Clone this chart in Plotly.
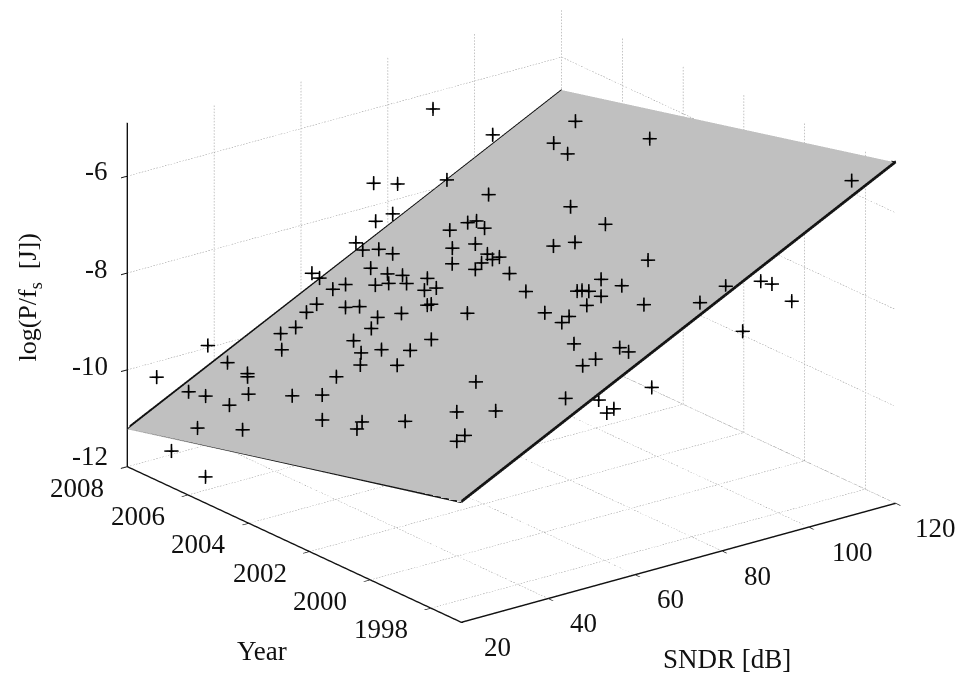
import plotly.graph_objects as go

sndr = [88.86,78.8,81.32,82.23,81.0,69.8,70.85,70.4,74.78,76.85,75.15,75.05,74.23,72.76,71.05,71.1,71.85,68.5,66.05,65.51,66.03,66.58,62.36,63.48,64.38,61.1,59.29,64.72,63.66,55.01,52.66,55.77,56.7,60.33,60.76,55.05,57.18,60.48,48.64,46.5,52.2,48.53,52.66,42.84,46.15,47.84,49.06,43.32,44.94,37.13,35.58,34.89,39.34,28.46,28.39,31.0,27.5,32.74,34.47,45.18,37.28,39.46,28.68,30.22,28.35,32.6,20.58,22.36,32.35,30.57,45.97,110.11,103.92,102.3,109.88,110.3,90.18,87.99,80.3,82.32,81.8,75.05,74.71,71.12,71.07,71.56,71.67,68.33,71.41,64.61,64.88,63.14,58.88,56.51,54.24,60.25,59.78,75.79,81.93,86.96,89.53,74.7,75.67,88.0,77.41,73.83,69.98,59.71,60.07,34.49,22.51,67.14,53.88,55.9,54.63,94.89,94.74,99.65,90.25,22.9,24.17]
year = [2005.96,2005.8,2005.57,2005.41,2004.97,2007.38,2007.0,2006.48,2005.14,2004.68,2004.04,2003.63,2003.74,2003.89,2003.85,2004.62,2002.84,2001.82,2006.58,2005.95,2005.53,2004.79,2005.9,2005.62,2005.16,2006.7,2006.86,2004.23,2004.47,2006.78,2006.78,2005.94,2005.61,2003.9,2003.83,2004.78,2004.3,2002.6,2006.56,2006.75,2004.58,2004.64,2002.67,2006.19,2004.05,2003.62,2002.85,2003.67,2002.69,2007.16,2006.28,2006.18,2003.89,2007.2,2006.63,2005.59,2005.72,2004.4,2003.66,2000.13,1999.63,1998.66,2002.83,2001.74,2001.64,2000.66,2005.78,2004.55,1998.66,1998.67,1997.29,2006.14,2005.97,2005.28,2003.66,1997.07,2003.45,2001.99,2002.6,2002.18,1999.7,2000.28,1999.55,1999.72,2000.5,2000.41,2000.2,1999.79,1998.35,2000.64,1999.88,1999.87,1998.86,1997.81,1997.91,1997.55,1997.19,1997.13,1997.16,2007.52,2005.92,2007.72,2007.07,2007.21,2007.48,2007.53,2007.63,2007.61,2007.41,2007.43,2007.4,1997.48,1997.33,1997.12,1997.17,1997.86,1997.47,1997.52,1997.79,2006.97,2006.03]
logp = [-7.47,-7.91,-7.75,-7.69,-7.68,-8.56,-8.46,-8.39,-7.99,-7.82,-7.80,-7.74,-7.80,-7.88,-7.96,-8.07,-7.77,-7.76,-8.61,-8.53,-8.45,-8.31,-8.67,-8.58,-8.47,-8.86,-8.96,-8.30,-8.39,-9.14,-9.25,-8.98,-8.89,-8.45,-8.42,-8.83,-8.66,-8.24,-9.40,-9.53,-8.93,-9.11,-8.61,-9.61,-9.13,-8.98,-8.80,-9.20,-8.96,-10.02,-9.95,-9.97,-9.41,-10.42,-10.34,-10.06,-10.24,-9.79,-9.60,-8.56,-8.84,-8.59,-9.73,-9.49,-9.56,-9.22,-10.56,-10.28,-8.92,-9.00,-8.09,-6.53,-6.78,-6.76,-6.16,-5.11,-7.02,-6.90,-7.34,-7.19,-6.82,-7.22,-7.13,-7.31,-7.43,-7.40,-7.36,-7.45,-7.09,-7.76,-7.62,-7.70,-7.74,-7.69,-7.80,-7.47,-7.44,-6.80,-6.62,-6.11,-6.24,-7.40,-7.25,-7.51,-8.03,-8.11,-8.49,-8.86,-8.91,-9.68,-10.03,-8.44,-8.33,-8.50,-8.57,-7.04,-6.98,-7.47,-7.94,-11.44,-11.73]

plane_sndr = [20, 120, 120, 20]
plane_year = [1997, 1997, 2008, 2008]
plane_logp = [-9.52, -4.96, -6.68, -11.23]

sndr_ticks = [20, 40, 60, 80, 100, 120]
year_ticks = [2008, 2006, 2004, 2002, 2000, 1998]
logp_ticks = [-12, -10, -8, -6]

X0, X1 = 20, 120
Y0, Y1 = 1997, 2008
Z0, Z1 = -12, -5
ZTOP = -4.9
YLAB = Y0 + 0.02
SERIF = "Liberation Serif"
TICK_FONT = dict(family=SERIF, size=27, color="#111111")
SNDR_DX = [37, 36, 36, 36, 44, 40]
LOGP_DY = [11, 4, 4, 5]

# fine dotted grid: every rule is broken into short dashes
gx, gy, gz = [], [], []
def seg(a, b, n):
    for i in range(n):
        t0, t1 = i / n, (i + 0.5) / n
        gx.extend([a[0] + (b[0] - a[0]) * t0, a[0] + (b[0] - a[0]) * t1, None])
        gy.extend([a[1] + (b[1] - a[1]) * t0, a[1] + (b[1] - a[1]) * t1, None])
        gz.extend([a[2] + (b[2] - a[2]) * t0, a[2] + (b[2] - a[2]) * t1, None])
for s in sndr_ticks:
    if s > X0:
        seg((s, Y0, Z0), (s, Y1, Z0), 120)
        seg((s, Y1, Z0), (s, Y1, Z1), 110)
for y in year_ticks:
    if y < Y1:
        seg((X0, y, Z0), (X1, y, Z0), 150)
        seg((X1, y, Z0), (X1, y, Z1), 110)
seg((X0, Y1, Z0), (X1, Y1, Z0), 150)
for z in logp_ticks:
    seg((X0, Y1, z), (X1, Y1, z), 150)
    seg((X1, Y1, z), (X1, Y0, z), 120)

fig = go.Figure()
fig.add_trace(go.Scatter3d(x=gx, y=gy, z=gz, mode="lines", hoverinfo="skip",
                           line=dict(color="#8a8a8a", width=1)))
fig.add_trace(go.Mesh3d(x=plane_sndr, y=plane_year, z=plane_logp, i=[0, 0], j=[1, 2], k=[2, 3],
                        color="#c0c0c0", opacity=1, flatshading=True, hoverinfo="skip",
                        lighting=dict(ambient=1, diffuse=0, specular=0, fresnel=0, roughness=1)))
# closed outline on the plane itself
fig.add_trace(go.Scatter3d(x=plane_sndr + plane_sndr[:1], y=plane_year + plane_year[:1],
                           z=plane_logp + plane_logp[:1], mode="lines", hoverinfo="skip",
                           line=dict(color="#111111", width=3.5)))
# the two long edges again, nudged up so the depth test keeps them whole
ox, oy, oz = [], [], []
for a, b in [(0, 1), (2, 3)]:
    ox.extend([plane_sndr[a], plane_sndr[b], None])
    oy.extend([plane_year[a], plane_year[b], None])
    oz.extend([plane_logp[a] + 0.03, plane_logp[b] + 0.03, None])
fig.add_trace(go.Scatter3d(x=ox, y=oy, z=oz, mode="lines", hoverinfo="skip",
                           line=dict(color="#111111", width=3)))
fig.add_trace(go.Scatter3d(x=sndr, y=year, z=logp, mode="text", text=["+"] * len(sndr),
                           textposition="middle center",
                           textfont=dict(family=SERIF, size=31, color="#000000")))

ann = []
for s, dx in zip(sndr_ticks, SNDR_DX):
    ann.append(dict(x=s, y=YLAB, z=Z0, text=str(s), showarrow=False, font=TICK_FONT, xshift=dx, yshift=-25))
for y in year_ticks:
    ann.append(dict(x=X0, y=y, z=Z0, text=str(y), showarrow=False, font=TICK_FONT, xshift=-50, yshift=-21))
for z, dy in zip(logp_ticks, LOGP_DY):
    ann.append(dict(x=X0, y=Y1, z=z, text=str(z), showarrow=False, font=TICK_FONT, xanchor="right",
                    xshift=-17, yshift=dy))
ann.append(dict(x=X0, y=2002, z=Z0, text="Year", showarrow=False, font=TICK_FONT, xshift=-48, yshift=-99))
ann.append(dict(x=80, y=YLAB, z=Z0, text="SNDR [dB]", showarrow=False, font=TICK_FONT, xshift=6, yshift=-108))
ann.append(dict(x=X0, y=Y1, z=-8.5, text="log(P/f<sub>s</sub>  [J])", showarrow=False,
                font=dict(family=SERIF, size=26, color="#111111"), textangle=-90, xshift=-98, yshift=0))

def axis(rng, vals):
    return dict(range=rng, tickvals=vals, showgrid=False, showbackground=False, zeroline=False,
                showline=True, linecolor="#111111", linewidth=3, ticks="outside", ticklen=8,
                tickcolor="#111111", tickwidth=2, showticklabels=False, title=dict(text=""),
                showspikes=False)

fig.update_layout(
    width=964, height=673, margin=dict(l=0, r=0, t=0, b=0), showlegend=False,
    paper_bgcolor="white",
    scene=dict(
        domain=dict(x=[0.0446, 1], y=[0.0862, 1]),
        xaxis=axis([X0, X1], sndr_ticks),
        yaxis=axis([Y0, Y1], year_ticks),
        zaxis=axis([Z0, ZTOP], logp_ticks),
        aspectmode="manual", aspectratio=dict(x=1.78, y=1.785, z=1.197),
        camera=dict(projection=dict(type="orthographic"),
                    eye=dict(x=-1.707, y=-2.226, z=1.065), up=dict(x=0, y=0, z=1),
                    center=dict(x=0, y=0, z=-0.0084)),
        annotations=ann,
    ),
)
fig.write_html("out.html")
